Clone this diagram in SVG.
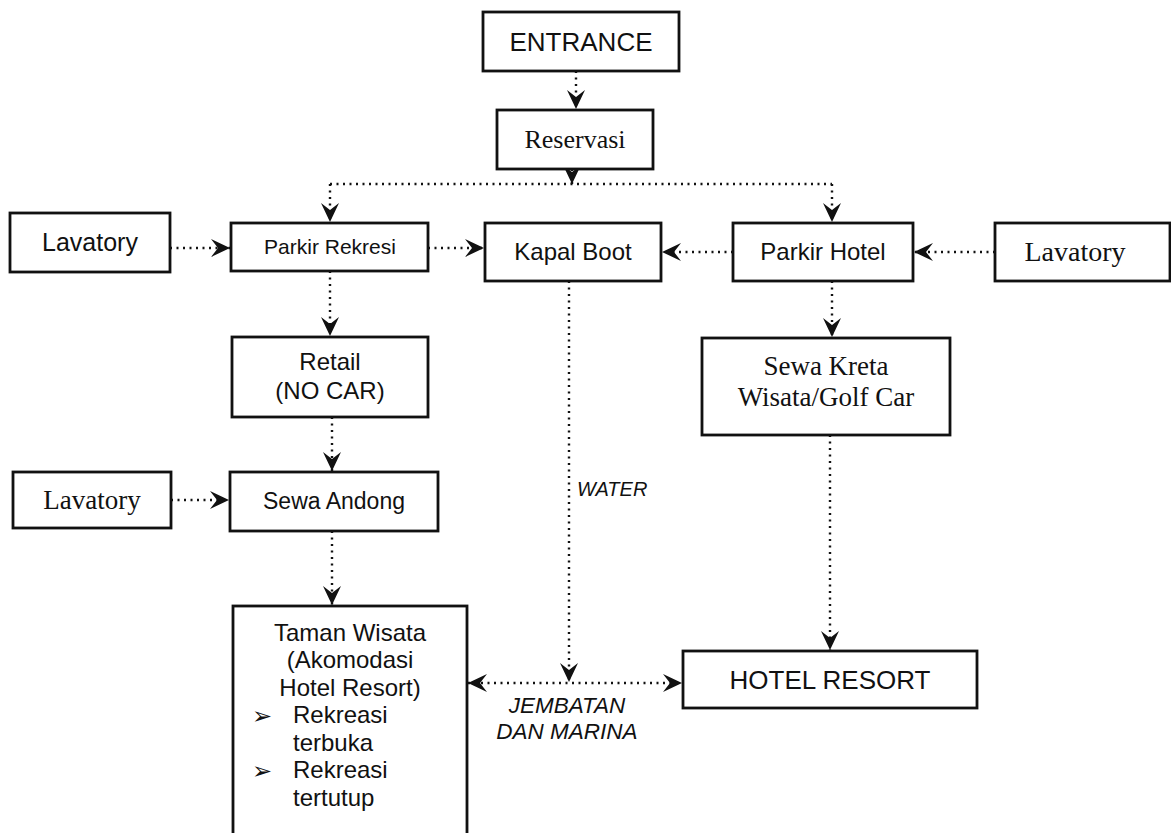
<svg xmlns="http://www.w3.org/2000/svg" width="1171" height="833" viewBox="0 0 1171 833">
<style>
.box{fill:#fff;stroke:#111;stroke-width:2.8}
.ar{font-family:"Liberation Sans",Arial,sans-serif;fill:#111;text-anchor:middle}
.tr{font-family:"Liberation Serif","Times New Roman",serif;fill:#111;text-anchor:middle}
.it{font-family:"Liberation Sans",Arial,sans-serif;font-style:italic;fill:#111}
.tl{font-family:"Liberation Sans",Arial,sans-serif;fill:#111;font-size:24px}
.bl{font-family:"DejaVu Sans",sans-serif;fill:#111;font-size:24px}
.con{fill:none;stroke:#111;stroke-width:2.4;stroke-dasharray:2 4.5}
</style>
<defs>
<marker id="ah" viewBox="0 0 20 20" markerWidth="20" markerHeight="20" refX="19" refY="10" orient="auto-start-reverse" markerUnits="userSpaceOnUse">
<path d="M0,1 L19,10 L0,19 L7,10 z" fill="#111"/>
</marker>
</defs>
<rect width="1171" height="833" fill="#fff"/>
<g id="connectors">
<path class="con" d="M576,71 V109" marker-end="url(#ah)"/>
<path class="con" d="M572,169 V184" marker-end="url(#ah)"/>
<path class="con" d="M330,184 H832"/>
<path class="con" d="M330,184 V222" marker-end="url(#ah)"/>
<path class="con" d="M832,184 V222" marker-end="url(#ah)"/>
<path class="con" d="M170,248 H230" marker-end="url(#ah)"/>
<path class="con" d="M428,248 H484" marker-end="url(#ah)"/>
<path class="con" d="M733,252 H662" marker-end="url(#ah)"/>
<path class="con" d="M995,252 H914" marker-end="url(#ah)"/>
<path class="con" d="M330,271 V336" marker-end="url(#ah)"/>
<path class="con" d="M332,417 V471" marker-end="url(#ah)"/>
<path class="con" d="M171,500 H229" marker-end="url(#ah)"/>
<path class="con" d="M332,531 V605" marker-end="url(#ah)"/>
<path class="con" d="M832,281 V337" marker-end="url(#ah)"/>
<path class="con" d="M830,435 V650" marker-end="url(#ah)"/>
<path class="con" d="M569,281 V682" marker-end="url(#ah)"/>
<path class="con" d="M468,683 H682" marker-start="url(#ah)" marker-end="url(#ah)"/>
<text class="it" x="577" y="496" font-size="20">WATER</text>
<text class="it" x="567" y="713" font-size="22.5" text-anchor="middle">JEMBATAN</text>
<text class="it" x="567" y="739" font-size="22.5" text-anchor="middle">DAN MARINA</text>
</g>
<g id="entrance"><rect class="box" x="483" y="12" width="196" height="59"/><text class="ar" x="581" y="51" font-size="26">ENTRANCE</text></g>
<g id="reservasi"><rect class="box" x="497" y="110" width="156" height="59"/><text class="tr" x="575" y="148" font-size="26">Reservasi</text></g>
<g id="lavatory-left"><rect class="box" x="10" y="213" width="160" height="59"/><text class="ar" x="90" y="251" font-size="25">Lavatory</text></g>
<g id="parkir-rekresi"><rect class="box" x="231" y="223" width="197" height="48"/><text class="ar" x="330" y="254" font-size="21">Parkir Rekresi</text></g>
<g id="kapal-boot"><rect class="box" x="485" y="223" width="176" height="58"/><text class="ar" x="573" y="260" font-size="24">Kapal Boot</text></g>
<g id="parkir-hotel"><rect class="box" x="733" y="223" width="180" height="58"/><text class="ar" x="823" y="260" font-size="24">Parkir Hotel</text></g>
<g id="lavatory-right"><rect class="box" x="995" y="223" width="175" height="58"/><text class="tr" x="1075" y="261" font-size="28">Lavatory</text></g>
<g id="retail"><rect class="box" x="232" y="337" width="196" height="80"/><text class="ar" x="330" y="370" font-size="24">Retail</text><text class="ar" x="330" y="399" font-size="24">(NO CAR)</text></g>
<g id="sewa-kreta"><rect class="box" x="702" y="338" width="248" height="97"/><text class="tr" x="826" y="375" font-size="27">Sewa Kreta</text><text class="tr" x="826" y="406" font-size="27">Wisata/Golf Car</text></g>
<g id="lavatory-mid"><rect class="box" x="13" y="472" width="158" height="56"/><text class="tr" x="92" y="509" font-size="27">Lavatory</text></g>
<g id="sewa-andong"><rect class="box" x="230" y="472" width="208" height="59"/><text class="ar" x="334" y="509" font-size="23">Sewa Andong</text></g>
<g id="taman-wisata"><rect class="box" x="233" y="606" width="234" height="240"/>
<text class="ar" x="350" y="641" font-size="24">Taman Wisata</text>
<text class="ar" x="350" y="668" font-size="24">(Akomodasi</text>
<text class="ar" x="350" y="696" font-size="24">Hotel Resort)</text>
<text class="bl" x="252" y="724">➢</text>
<text class="tl" x="293" y="723">Rekreasi</text>
<text class="tl" x="293" y="751">terbuka</text>
<text class="bl" x="252" y="779">➢</text>
<text class="tl" x="293" y="778">Rekreasi</text>
<text class="tl" x="293" y="806">tertutup</text>
</g>
<g id="hotel-resort"><rect class="box" x="683" y="651" width="294" height="57"/><text class="ar" x="830" y="689" font-size="26">HOTEL RESORT</text></g>
</svg>
